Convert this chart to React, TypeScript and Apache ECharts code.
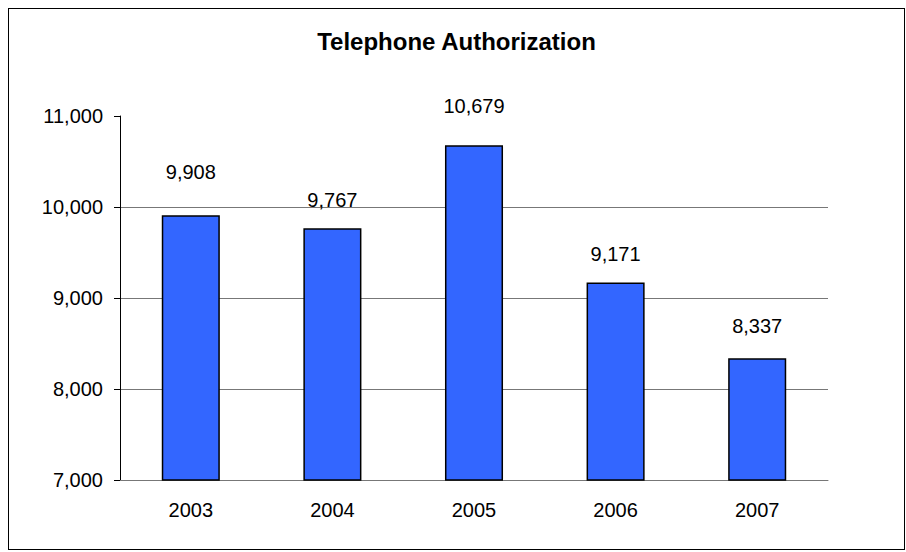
import React, { useEffect, useRef } from "react";
import * as echarts from "echarts";

const titleText = "Telephone Authorization";
const years = ["2003", "2004", "2005", "2006", "2007"];
const authorizations = [9908, 9767, 10679, 9171, 8337];
const yMin = 7000;
const yMax = 11000;
const yStep = 1000;

const labelGaps = [33, 18, 29, 18, 22];
const FONT = "'Liberation Sans', Arial, sans-serif";

export default function App() {
  const ref = useRef<HTMLDivElement>(null);
  useEffect(() => {
    if (!ref.current) return;
    const chart = echarts.init(ref.current, null, { renderer: "svg" });
    const fmt = (v: number) => v.toLocaleString("en-US");
    chart.setOption({
      animation: false,
      backgroundColor: "#fff",
      textStyle: { fontFamily: FONT },
      title: {
        text: titleText,
        left: "center",
        top: 15,
        textStyle: { fontFamily: FONT, fontSize: 24, fontWeight: "bold", color: "#000" },
      },
      grid: { left: 111, top: 107, width: 708, height: 364, containLabel: false },
      xAxis: {
        type: "category",
        data: years,
        axisLine: { show: true, lineStyle: { color: "#777", width: 1 } },
        axisTick: { show: false },
        axisLabel: { color: "#000", fontSize: 20, margin: 20, fontFamily: FONT },
        splitLine: { show: false },
      },
      yAxis: {
        type: "value",
        min: yMin,
        max: yMax,
        interval: yStep,
        axisLine: { show: true, lineStyle: { color: "#000", width: 1 } },
        axisTick: { show: true, length: 6, inside: false, lineStyle: { color: "#000" } },
        axisLabel: { color: "#000", fontSize: 20, margin: 17, fontFamily: FONT, formatter: fmt },
        splitLine: {
          show: true,
          lineStyle: { color: ["#777", "#777", "#777", "#777", "transparent"], width: 1 },
        },
      },
      series: [
        {
          type: "bar",
          data: authorizations.map((v, i) => ({
            value: v,
            label: { distance: labelGaps[i] },
          })),
          barWidth: "41%",
          itemStyle: { color: "#3366FF", borderColor: "#000", borderWidth: 1.5 },
          label: {
            show: true,
            position: "top",
            color: "#000",
            fontSize: 20,
            fontFamily: FONT,
            formatter: (p: any) => fmt(p.value),
          },
        },
      ],
    });
    return () => chart.dispose();
  }, []);
  return (
    <div
      style={{
        position: "fixed",
        left: 8,
        top: 8,
        width: 897,
        height: 542,
        border: "1px solid #000",
        boxSizing: "border-box",
        background: "#fff",
      }}
    >
      <div ref={ref} style={{ width: 895, height: 540 }} />
    </div>
  );
}
